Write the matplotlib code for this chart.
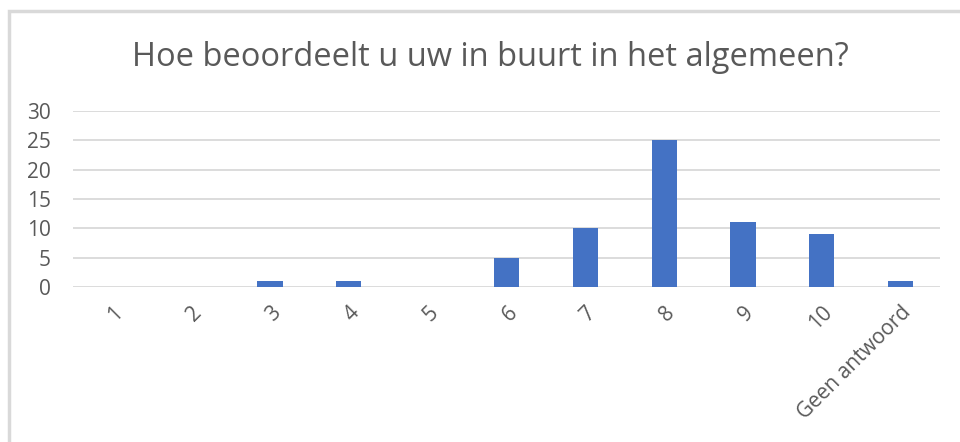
import matplotlib.pyplot as plt
from matplotlib.patches import Rectangle

categories = ['1', '2', '3', '4', '5', '6', '7', '8', '9', '10', 'Geen antwoord']
counts = [0, 0, 1, 1, 0, 5, 10, 25, 11, 9, 1]
y_ticks = [0, 5, 10, 15, 20, 25, 30]

title = 'Hoe beoordeelt u uw in buurt in het algemeen?'

plt.rcParams['font.family'] = ['Open Sans', 'DejaVu Sans']

fig = plt.figure(figsize=(9.6, 4.42), dpi=100)
W, H = 960, 442

# randje van het Excel-diagramvak
fig.patches.append(Rectangle((9 / W, -0.1), 2, 1 - 11 / H + 0.1, transform=fig.transFigure,
                             facecolor='none', edgecolor='#d9d9d9', linewidth=2.5, zorder=-1))

ax = fig.add_axes([73 / W, 1 - 287 / H, (940 - 73) / W, (287 - 111) / H])

x = range(len(categories))
ax.bar(x, counts, width=0.32, color='#4472c4', zorder=3)

ax.set_xlim(-0.5, len(categories) - 0.5)
ax.set_ylim(0, 30)
ax.set_yticks(y_ticks)
ax.yaxis.grid(True, color='#d9d9d9', linewidth=1.3)
ax.set_axisbelow(True)

ax.set_xticks(list(x))
ax.set_xticklabels(categories, rotation=45, ha='right', rotation_mode='anchor')
ax.tick_params(axis='x', length=0, pad=11, labelsize=15, labelcolor='#595959')
ax.tick_params(axis='y', length=0, pad=16, labelsize=15, labelcolor='#595959')

for s in ax.spines.values():
    s.set_visible(False)
ax.patch.set_alpha(0)

fig.text(490 / W, 1 - 58 / H, title, ha='center', va='center', fontsize=23.5, color='#595959')

fig.savefig('out.png', dpi=100)
